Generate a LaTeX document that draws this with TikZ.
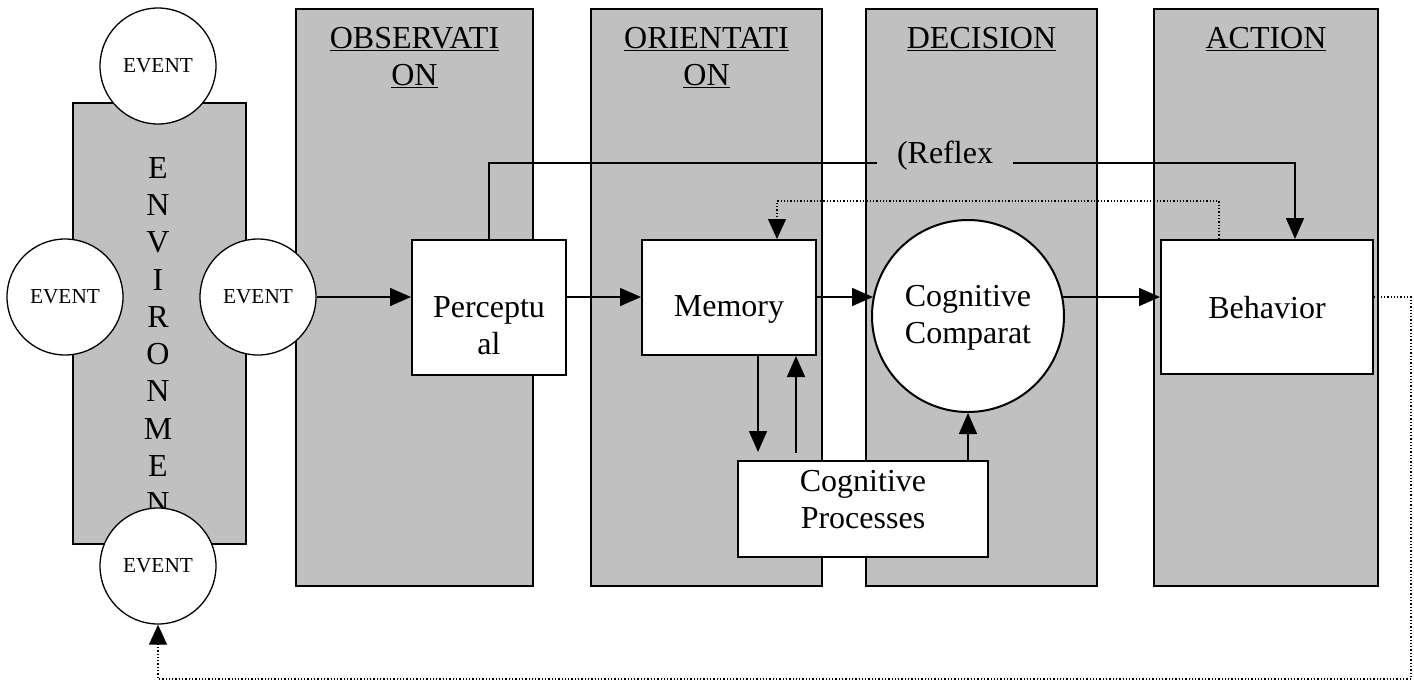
\documentclass[tikz,border=0pt]{standalone}
\usepackage{fontspec}
\setmainfont{Liberation Serif}
\usetikzlibrary{arrows.meta,calc,positioning}

\definecolor{panel-grey}{RGB}{192,192,192}
\newcommand{\mainsize}{\fontsize{32pt}{37.3pt}\selectfont}
\newcommand{\eventsize}{\fontsize{21.3pt}{25pt}\selectfont}

\tikzset{
  panel/.style={draw=black, line width=2pt, fill=panel-grey, inner sep=0pt, anchor=north west},
  heading/.style={anchor=north, inner sep=0pt, align=center, font=\mainsize},
  block/.style={draw=black, line width=2pt, fill=white, inner sep=0pt, align=center,
                anchor=north west, font=\mainsize},
  event/.style={circle, draw=black, line width=1.3pt, fill=white, minimum size=116pt,
                inner sep=0pt, font=\eventsize},
  flow/.style={line width=1.6pt, -{Triangle[length=21pt,width=18pt]}},
  feedback/.style={line width=1.2pt, dash pattern=on 1.3pt off 2pt,
                   -{Triangle[length=20pt,width=18pt]}},
}

\begin{document}
\begin{tikzpicture}[x=1pt,y=-1pt]
  \useasboundingbox (0,0) rectangle (1414,681);

  % OODA columns
  \node[panel, minimum width=237pt, minimum height=577pt] (obs) at (295,8) {};
  \node[panel, minimum width=231pt, minimum height=577pt] (ori) at (590,8) {};
  \node[panel, minimum width=231pt, minimum height=577pt] (dec) at (865,8) {};
  \node[panel, minimum width=224pt, minimum height=577pt] (act) at (1153,8) {};

  \node[heading] (obs-h) at ([yshift=-19pt]obs.north) {\underline{OBSERVATI}\\\underline{ON}};
  \node[heading] (ori-h) at ([yshift=-19pt]ori.north) {\underline{ORIENTATI}\\\underline{ON}};
  \node[heading] (dec-h) at ([yshift=-19pt]dec.north) {\underline{DECISION}};
  \node[heading] (act-h) at ([yshift=-19pt]act.north) {\underline{ACTION}};

  % environment with its events
  \node[panel, minimum width=173pt, minimum height=441pt] (env) at (72,102) {};
  \node[heading] (env-t) at (158,157) {E\\N\\V\\I\\R\\O\\N\\M\\E\\N};

  \node[event] (evT) at (158,66) {EVENT};
  \node[event] (evL) at (65,297) {EVENT};
  \node[event] (evR) at (258,297) {EVENT};
  \node[event] (evB) at (158,566) {EVENT};

  % process blocks
  \node[block, minimum width=154pt, minimum height=135pt, text width=150pt,
        text height=69pt, text depth=50pt] (percep) at (411,239) {Perceptu\\al};
  \node[block, minimum width=174pt, minimum height=115pt,
        text height=47pt, text depth=10pt] (memory) at (641,239) {Memory};
  \node[block, circle, anchor=center, minimum size=192pt, text width=150pt,
        text height=20pt, text depth=40pt] (comp) at (968,316) {Cognitive\\Comparat};
  \node[block, minimum width=212pt, minimum height=134pt,
        text height=32pt, text depth=10pt] (behavior) at (1160,239) {Behavior};
  \node[block, minimum width=250pt, minimum height=96pt, text width=240pt,
        text height=14pt, text depth=50pt] (cogproc) at (737,460) {Cognitive\\Processes};

  % main flow
  \draw[flow] (evR.east) -- (evR.east -| percep.west);
  \draw[flow] (percep.east |- evR.east) -- (memory.west |- evR.east);
  \draw[flow] (memory.east |- evR.east) -- ([xshift=2pt]comp.west |- evR.east);
  \draw[flow] ([xshift=-2pt]comp.east |- evR.east) -- (behavior.west |- evR.east);

  \draw[flow] ([xshift=29pt]memory.south) -- ++(0,96);
  \draw[flow] ($(memory.south)+(67,97)$) -- ([xshift=67pt]memory.south);
  \draw[flow] (cogproc.north -| comp.south) -- (comp.south);

  % reflex path
  \node[anchor=base, inner xsep=20pt, font=\mainsize] (reflex) at (945,163) {(Reflex};
  \draw[line width=1.6pt] (percep.north) |- (reflex.base west);
  \draw[flow] (reflex.base east) -| ([xshift=28pt]behavior.north);

  % feedback loops
  \draw[feedback] ([xshift=-48pt]behavior.north) -- ++(0,-38) -| ([xshift=48pt]memory.north);
  \draw[feedback] (behavior.east |- evR.east) -| ++(37,382) -| (evB.south);
\end{tikzpicture}
\end{document}
